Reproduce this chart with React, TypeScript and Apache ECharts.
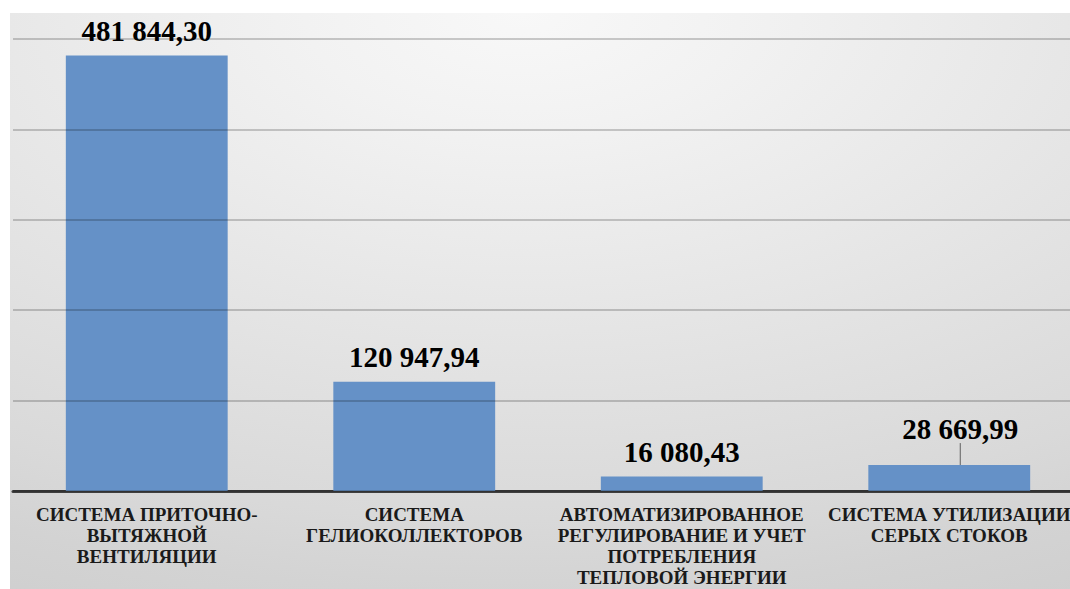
import React, { useEffect, useRef } from "react";
import * as echarts from "echarts";

// Categories (measures) and their costs
const categories: string[] = [
  "СИСТЕМА ПРИТОЧНО-\nВЫТЯЖНОЙ\nВЕНТИЛЯЦИИ",
  "СИСТЕМА\nГЕЛИОКОЛЛЕКТОРОВ",
  "АВТОМАТИЗИРОВАННОЕ\nРЕГУЛИРОВАНИЕ И УЧЕТ\nПОТРЕБЛЕНИЯ\nТЕПЛОВОЙ ЭНЕРГИИ",
  "СИСТЕМА УТИЛИЗАЦИИ\nСЕРЫХ СТОКОВ",
];
const costs: number[] = [481844.3, 120947.94, 16080.43, 28669.99];

// Value axis ticks
const axisMin = 0;
const axisMax = 500000;
const axisStep = 100000;

const formatRu = (v: number): string => {
  const [int, dec] = v.toFixed(2).split(".");
  return int.replace(/\B(?=(\d{3})+(?!\d))/g, " ") + "," + dec;
};

export default function App() {
  const ref = useRef<HTMLDivElement>(null);

  useEffect(() => {
    if (!ref.current) return;
    const chart = echarts.init(ref.current, undefined, { renderer: "svg" });
    const serif = "Liberation Serif";

    chart.setOption({
      animation: false,
      backgroundColor: "#ffffff",
      graphic: [
        {
          type: "rect",
          silent: true,
          z: -100,
          shape: { x: 10, y: 13, width: 1090, height: 576 },
          style: {
            fill: {
              type: "radial",
              x: 0.47,
              y: 0.0,
              r: 1.42,
              colorStops: [
                { offset: 0, color: "#f8f8f8" },
                { offset: 0.14, color: "#f2f2f2" },
                { offset: 0.62, color: "#d9d9d9" },
                { offset: 0.71, color: "#d3d3d3" },
                { offset: 0.94, color: "#c8c8c8" },
                { offset: 1, color: "#c5c5c5" },
              ],
            },
          },
        },
      ],
      grid: { left: 13, top: 39, width: 1070, height: 452 },
      xAxis: {
        type: "category",
        data: categories,
        axisTick: { show: false },
        axisLine: { lineStyle: { color: "#3f3f3f", width: 3 } },
        axisLabel: {
          interval: 0,
          margin: 13,
          fontFamily: serif,
          fontWeight: "bold",
          fontSize: 19,
          lineHeight: 21,
          color: "#1a1a1a",
        },
      },
      yAxis: {
        type: "value",
        min: axisMin,
        max: axisMax,
        interval: axisStep,
        z: 3,
        axisLabel: { show: false },
        axisLine: { show: false },
        axisTick: { show: false },
        splitLine: { lineStyle: { color: "rgba(0,0,0,0.26)", width: 1.5 } },
      },
      series: [
        {
          type: "bar",
          barCategoryGap: "39.5%",
          itemStyle: { color: "#6591c7" },
          data: costs.map((v, i) =>
            i === 3
              ? { value: v, labelLine: { show: true, lineStyle: { color: "#5f5f5f", width: 1 } } }
              : { value: v }
          ),
          label: {
            show: true,
            position: "top",
            distance: 10,
            fontFamily: serif,
            fontWeight: "bold",
            fontSize: 29,
            color: "#000000",
            formatter: (p: any) => formatRu(p.value),
          },
          labelLayout: (p: any) => (p.dataIndex === 3 ? { dx: 11, dy: -12 } : {}),
        },
      ],
    });

    return () => chart.dispose();
  }, []);

  return (
    <div
      ref={ref}
      style={{ position: "fixed", left: 0, top: 0, width: 1100, height: 589 }}
    />
  );
}
